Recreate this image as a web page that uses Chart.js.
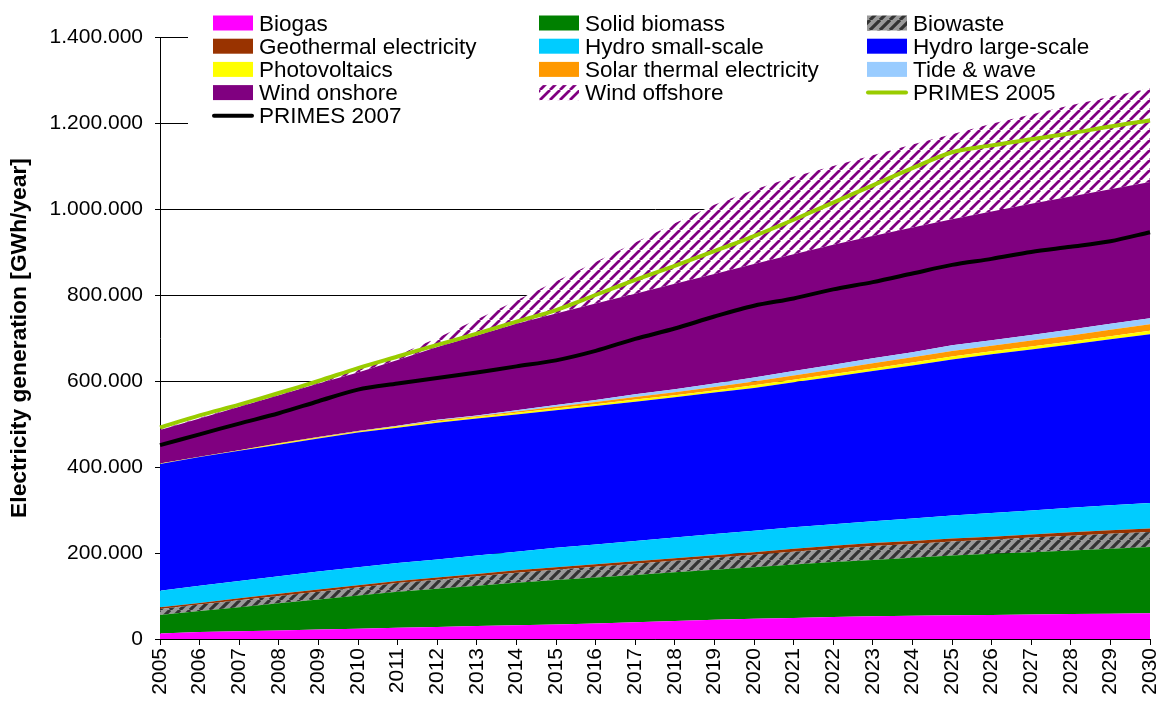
<!DOCTYPE html>
<html>
<head>
<meta charset="utf-8">
<script src="https://cdn.jsdelivr.net/npm/chart.js@4.4.1/dist/chart.umd.min.js"></script>
<style>
  html, body { margin: 0; padding: 0; background: #fff; }
</style>
</head>
<body>
<canvas id="chartRes" width="1162" height="704"></canvas>
<script>
// values in 1000 GWh/year
const years = ["2005","2006","2007","2008","2009","2010","2011","2012","2013","2014","2015","2016","2017",
               "2018","2019","2020","2021","2022","2023","2024","2025","2026","2027","2028","2029","2030"];
const biogas        = [13,16,18,20,22,24,26,28,30,32,34,36,39,42,45,47,49,51,53,54,55,56,57,58,59,60];
const solidBiomass  = [43,49,56,63,70,77,84,89,94,99,103,107,110,113,116,120,124,128,131,135,139,142,145,148,151,154];
const biowaste      = [14,15,16,17,18,19,20,21,22,23,24,25,26,27,28,29,30,31,32,32,33,33,34,34,35,35];
const geothermal    = [4,4,5,5,5,5,5,5,5,6,6,6,6,6,6,6,7,7,7,7,7,7,7,8,8,8];
const hydroSmall    = [38,40,40,41,42,42,42,42,43,43,45,46,47,48,49,50,50,50,51,52,53,55,56,57,58,59];
const hydroLarge    = [295,299,303,306,309,313,314,318,319,319,320,322,324,326,329,332,337,343,349,356,363,369,374,380,386,393];
const photovoltaics = [1,1,1,2,2,2,3,3,3,4,4,4,5,5,5,6,6,6,6,7,7,7,7,7,7,8];
const solarThermal  = [0,0,0,1,1,1,1,2,2,3,4,5,6,7,8,9,10,11,12,12,13,13,14,14,15,15];
const tideWave      = [0,0,0,0,1,1,1,2,2,3,4,5,6,7,8,9,10,11,12,12,13,13,13,14,14,14];
const windOnshore   = [78,89,101,112,124,136,153,169,186,201,213,224,234,245,255,264,272,279,284,290,293,299,305,309,313,317];
const windOffshore  = [1,1,2,2,3,6,11,21,37,54,75,97,119,141,161,173,180,183,188,193,198,204,208,212,215,218];
const primes2005    = [492,520,545,572,600,630,657,684,710,738,765,800,835,868,902,937,975,1015,1055,1095,1132,1148,1162,1176,1192,1206];
const primes2007    = [451,476,501,525,553,580,594,607,620,634,648,670,698,722,750,775,792,813,830,850,870,884,900,912,925,946];

const FONT = "'Liberation Sans', Arial, sans-serif";

// hatch patterns (Excel style wide upward diagonal)
function hatch(bg, fg, size, w) {
    var c = document.createElement("canvas");
    c.width = size; c.height = size;
    var g = c.getContext("2d");
    g.fillStyle = bg;
    g.fillRect(0, 0, size, size);
    g.strokeStyle = fg;
    g.lineWidth = w;
    g.beginPath();
    for (let k = -1; k <= 1; k++) {
        g.moveTo(k * size, size);
        g.lineTo(k * size + size, 0);
    }
    g.stroke();
    return document.getElementById("chartRes").getContext("2d").createPattern(c, "repeat");
}
const biowastePattern = hatch("#999999", "#333333", 10, 3.2);
const offshorePattern = hatch("#ffffff", "#800080", 10, 2.8);

function area(label, data, color, first) {
    return {
        label: label,
        data: data,
        backgroundColor: color,
        borderWidth: 0,
        pointRadius: 0,
        fill: first ? "origin" : "-1",
        stack: "res",
        order: 1
    };
}
function primesLine(label, data, color, stackKey) {
    return {
        label: label,
        data: data,
        borderColor: color,
        backgroundColor: color,
        borderWidth: 4,
        pointRadius: 0,
        fill: false,
        tension: 0.3,
        stack: stackKey,
        order: 0,
        isLine: true
    };
}

var dataRes = {
    labels: years,
    datasets: [
        area("Biogas", biogas, "#ff00ff", true),
        area("Solid biomass", solidBiomass, "#008000"),
        area("Biowaste", biowaste, biowastePattern),
        area("Geothermal electricity", geothermal, "#993300"),
        area("Hydro small-scale", hydroSmall, "#00ccff"),
        area("Hydro large-scale", hydroLarge, "#0000ff"),
        area("Photovoltaics", photovoltaics, "#ffff00"),
        area("Solar thermal electricity", solarThermal, "#ff9900"),
        area("Tide & wave", tideWave, "#99ccff"),
        area("Wind onshore", windOnshore, "#800080"),
        area("Wind offshore", windOffshore, offshorePattern),
        primesLine("PRIMES 2005", primes2005, "#99cc00", "p2005"),
        primesLine("PRIMES 2007", primes2007, "#000000", "p2007")
    ]
};

function dotted(v) {
    return String(Math.round(v)).replace(/\B(?=(\d{3})+(?!\d))/g, ".");
}

// legend sits inside the plot on a white box, like the Excel original
const LEG_COLS = [213, 539, 867];
const LEG_ROW0 = 23, LEG_ROW_STEP = 23.2;
const boxLegend = {
    id: "boxLegend",
    beforeDatasetsDraw(chart) {
        const ctx = chart.ctx;
        ctx.save();
        ctx.fillStyle = "#fff";
        ctx.fillRect(188, 0, chart.chartArea.right - 188 + 2, 128);
        ctx.restore();
    },
    afterDraw(chart) {
        const ctx = chart.ctx;
        ctx.save();
        ctx.font = "22.5px " + FONT;
        ctx.textBaseline = "alphabetic";
        ctx.fillStyle = "#000";
        chart.data.datasets.forEach(function(ds, i) {
            const x = LEG_COLS[i % 3];
            const y = LEG_ROW0 + Math.floor(i / 3) * LEG_ROW_STEP;
            if (ds.isLine) {
                ctx.strokeStyle = ds.borderColor;
                ctx.lineWidth = 4;
                ctx.lineCap = "round";
                ctx.beginPath();
                ctx.moveTo(x + 1, y);
                ctx.lineTo(x + 39, y);
                ctx.stroke();
            } else {
                ctx.fillStyle = ds.backgroundColor;
                ctx.fillRect(x, y - 7.5, 40, 15);
            }
            ctx.fillStyle = "#000";
            ctx.fillText(ds.label, x + 46, y + 7.5);
        });
        ctx.restore();
    }
};

var chartRes = new Chart(document.getElementById("chartRes").getContext("2d"), {
    type: "line",
    data: dataRes,
    options: {
        responsive: false,
        animation: false,
        layout: { padding: { top: 37, right: 12, left: 0, bottom: 0 } },
        plugins: {
            legend: { display: false },
            tooltip: { enabled: false }
        },
        scales: {
            x: {
                offset: false,
                grid: { drawOnChartArea: false, color: "#000", tickLength: 6 },
                border: { color: "#000", width: 1 },
                ticks: {
                    autoSkip: false,
                    minRotation: 90,
                    maxRotation: 90,
                    padding: 3,
                    color: "#000",
                    font: { family: FONT, size: 21 }
                },
                afterFit: function(s) {
                    s.height = 65;
                    s.paddingLeft = 0;
                    s.paddingRight = 0;
                }
            },
            y: {
                stacked: true,
                min: 0,
                max: 1400,
                grid: { color: "#000", lineWidth: 1, tickLength: 5 },
                border: { color: "#000", width: 1 },
                ticks: {
                    stepSize: 200,
                    padding: 12,
                    color: "#000",
                    font: { family: FONT, size: 21 },
                    callback: function(v) { return dotted(v * 1000); }
                },
                title: {
                    display: true,
                    text: "Electricity generation [GWh/year]",
                    color: "#000",
                    font: { family: FONT, size: 22.8, weight: "bold" },
                    padding: { top: 6, bottom: 0 }
                },
                afterFit: function(s) { s.width = 160; }
            }
        }
    },
    plugins: [boxLegend]
});
</script>
</body>
</html>
